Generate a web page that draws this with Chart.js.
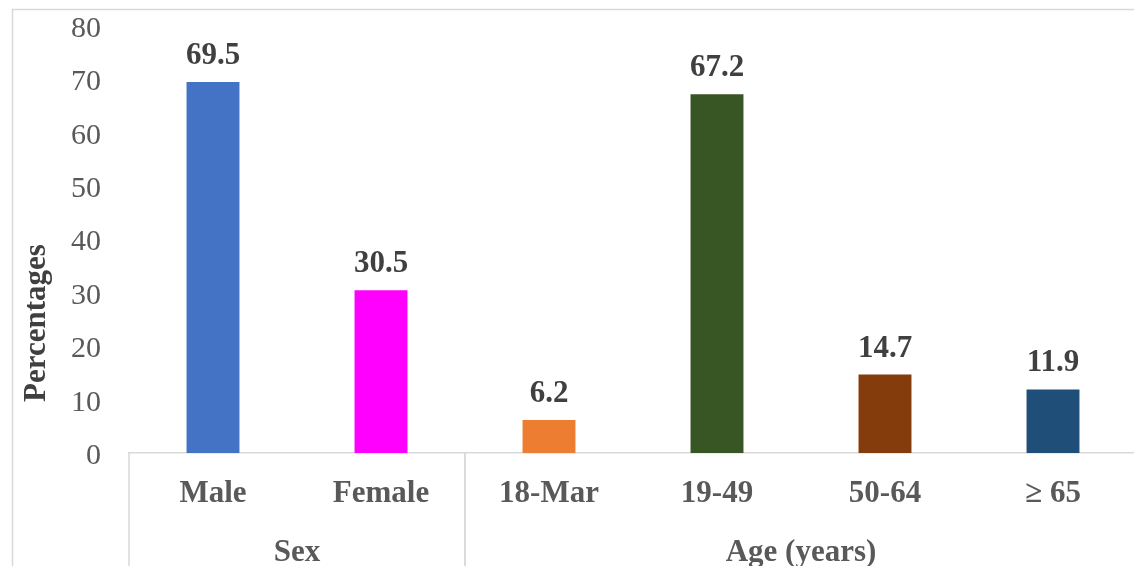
<!DOCTYPE html>
<html>
<head>
<meta charset="utf-8">
<script src="https://cdn.jsdelivr.net/npm/chart.js@4"></script>
<style>
  html, body { margin: 0; padding: 0; background: #fff; overflow: hidden; }
  #wrap { width: 1137px; height: 566px; position: relative; }
</style>
</head>
<body>
<div id="wrap"><canvas id="chart"></canvas></div>
<script>
// data
const categories = ['Male', 'Female', '18-Mar', '19-49', '50-64', '\u2265 65'];
const percentages = [69.5, 30.5, 6.2, 67.2, 14.7, 11.9];
const groupNames = ['Sex', 'Age (years)'];
const groupSizes = [2, 4];
const yTicks = [0, 10, 20, 30, 40, 50, 60, 70, 80];

// styles
const barColors = ['#4472C4', '#FF00FF', '#ED7D31', '#375623', '#843C0C', '#1F4E79'];
const serif = "'Liberation Serif', 'Times New Roman', serif";
const lineGray = '#d9d9d9';

// labels above bars, group row, separators, outer frame, y title
const extrasPlugin = {
    id: 'extras',
    afterDraw(chart) {
        const ctx = chart.ctx;
        const x = chart.scales.x;
        const area = chart.chartArea;
        ctx.save();

        // outer frame
        ctx.strokeStyle = lineGray;
        ctx.lineWidth = 1.5;
        ctx.strokeRect(12.5, 9.5, 1400, 700);

        // value labels
        ctx.fillStyle = '#404040';
        ctx.font = 'bold 31px ' + serif;
        ctx.textAlign = 'center';
        ctx.textBaseline = 'alphabetic';
        chart.getDatasetMeta(0).data.forEach((bar, i) => {
            ctx.fillText(percentages[i].toFixed(1), bar.x, bar.y - 18);
        });

        // group separators + group labels
        const half = (x.getPixelForValue(1) - x.getPixelForValue(0)) / 2;
        let start = 0;
        ctx.strokeStyle = lineGray;
        ctx.lineWidth = 1.5;
        ctx.fillStyle = '#595959';
        groupNames.forEach((name, g) => {
            const end = start + groupSizes[g] - 1;
            const left = x.getPixelForValue(start) - half;
            const right = x.getPixelForValue(end) + half;
            [left, right].forEach(px => {
                ctx.beginPath();
                ctx.moveTo(px, area.bottom);
                ctx.lineTo(px, chart.height);
                ctx.stroke();
            });
            ctx.fillText(name, (left + right) / 2, 561);
            start = end + 1;
        });

        // y axis title
        ctx.translate(37, 323);
        ctx.rotate(-Math.PI / 2);
        ctx.fillStyle = '#404040';
        ctx.textBaseline = 'middle';
        ctx.fillText('Percentages', 0, 0);
        ctx.restore();
    }
};

const ctx = document.getElementById('chart').getContext('2d');
const chart = new Chart(ctx, {
    type: 'bar',
    data: {
        labels: categories,
        datasets: [{
            data: percentages,
            backgroundColor: barColors,
            barPercentage: 0.315,
            categoryPercentage: 1
        }]
    },
    options: {
        responsive: true,
        maintainAspectRatio: false,
        animation: false,
        layout: { padding: { top: 26, right: 0, bottom: 0, left: 0 } },
        plugins: {
            legend: { display: false },
            tooltip: { enabled: false }
        },
        scales: {
            x: {
                grid: { display: false, drawTicks: false },
                border: { display: true, color: lineGray, width: 1.5 },
                ticks: {
                    color: '#595959',
                    font: { family: serif, size: 31, weight: 'bold' },
                    padding: 22,
                    maxRotation: 0,
                    autoSkip: false
                },
                afterFit(scale) {
                    scale.height = 113;
                    scale.paddingLeft = 0;
                    scale.paddingRight = 0;
                }
            },
            y: {
                min: 0,
                max: 80,
                grid: { display: false, drawTicks: false },
                border: { display: false },
                afterBuildTicks(scale) { scale.ticks = yTicks.map(v => ({ value: v })); },
                ticks: {
                    color: '#595959',
                    font: { family: serif, size: 30 },
                    padding: 28,
                    labelOffset: 3
                },
                afterFit(scale) {
                    scale.width = 129;
                    scale.paddingTop = 0;
                    scale.paddingBottom = 0;
                }
            }
        }
    },
    plugins: [extrasPlugin]
});
</script>
</body>
</html>
